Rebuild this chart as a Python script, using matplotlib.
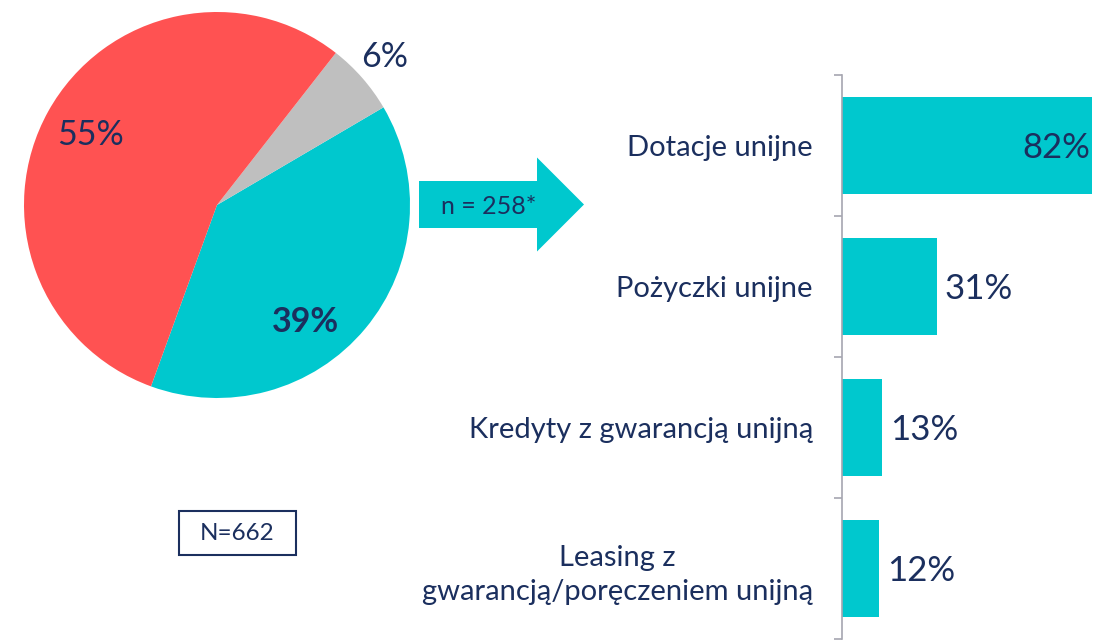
import matplotlib
matplotlib.use("Agg")
import matplotlib.pyplot as plt
from matplotlib.patches import FancyArrow, Rectangle
import numpy as np

plt.rcParams['font.family'] = ['Lato', 'DejaVu Sans']

# Pie data (order counterclockwise from start angle)
pie_labels = ["39%", "6%", "55%"]
pie_values = [39, 6, 55]
pie_colors = ["#00C8CE", "#BFBFBF", "#FF5252"]

# Bar data
categories = ["Dotacje unijne", "Pożyczki unijne", "Kredyty z gwarancją unijną",
              "Leasing z\ngwarancją/poręczeniem unijną"]
values = [82, 31, 13, 12]
value_labels = ["82%", "31%", "13%", "12%"]

N_text = "N=662"
n_text = "n = 258*"

navy = "#1B2F5E"
teal = "#00C8CE"

W, H = 1097, 641
fig = plt.figure(figsize=(W/100, H/100), dpi=100)

def fx(x): return x / W
def fy(y): return 1 - y / H

# Pie
cx, cy, r = 217, 205, 193
axp = fig.add_axes([fx(cx - r), fy(cy + r), 2*r/W, 2*r/H])
wedges, _ = axp.pie(pie_values, colors=pie_colors, startangle=-110,
                    counterclock=True, radius=1.0,
                    wedgeprops=dict(linewidth=0))
axp.set_xlim(-1, 1); axp.set_ylim(-1, 1)
axp.set_aspect('auto')
axp.axis('off')
def polar(dist, ang):
    a = np.deg2rad(ang)
    return dist*np.cos(a), dist*np.sin(a)
x, y = polar(0.75, 151)
axp.text(x, y, pie_labels[2], ha='center', va='center', fontsize=24.5, color=navy)
x, y = polar(0.76, -53)
axp.text(x, y, pie_labels[0], ha='center', va='center', fontsize=24.5, color=navy, fontweight='bold')
x, y = polar(1.16, 41.5)
axp.text(x, y, pie_labels[1], ha='center', va='center', fontsize=24.5, color=navy, clip_on=False)

# Arrow and N box on overlay axes in pixel coords
axo = fig.add_axes([0, 0, 1, 1])
axo.set_xlim(0, W); axo.set_ylim(H, 0)
axo.axis('off')
axo.patch.set_alpha(0)
axo.add_patch(FancyArrow(419, 204.5, 165, 0, width=47, head_width=94, head_length=47,
                         length_includes_head=True, color=teal, linewidth=0))
axo.text(489, 207, n_text, ha='center', va='center', fontsize=18, color=navy)
axo.add_patch(Rectangle((179, 511), 117, 44, fill=False, edgecolor=navy, linewidth=1.5))
axo.text(237.5, 534, N_text, ha='center', va='center', fontsize=17.5, color=navy)

# Bars
axb = fig.add_axes([fx(842), fy(639), (W - 842)/W, (639 - 75)/H])
ypos = np.arange(len(categories))
axb.barh(ypos, values, height=0.69, color=teal)
axb.set_ylim(len(categories) - 0.5, -0.5)
axb.set_xlim(0, 83.6)
for s in ['top', 'right', 'bottom']:
    axb.spines[s].set_visible(False)
axb.spines['left'].set_color("#A6A6B0")
axb.spines['left'].set_linewidth(1.2)
axb.set_xticks([])
axb.set_yticks(ypos)
axb.set_yticklabels(categories, fontsize=21, color=navy, multialignment='center',
                    linespacing=1.4)
axb.tick_params(axis='y', which='major', length=0, pad=21)
axb.set_yticks(np.arange(len(categories) + 1) - 0.5, minor=True)
axb.tick_params(axis='y', which='minor', length=6, color="#A6A6B0", width=1.2)
for i, (v, lab) in enumerate(zip(values, value_labels)):
    if v > 50:
        axb.annotate(lab, (v, i), xytext=(-1, -1.5), textcoords='offset points',
                     ha='right', va='center', fontsize=25, color=navy)
    else:
        axb.annotate(lab, (v, i), xytext=(6, -1.5), textcoords='offset points',
                     ha='left', va='center', fontsize=25, color=navy)

fig.savefig("out.png", dpi=100)
